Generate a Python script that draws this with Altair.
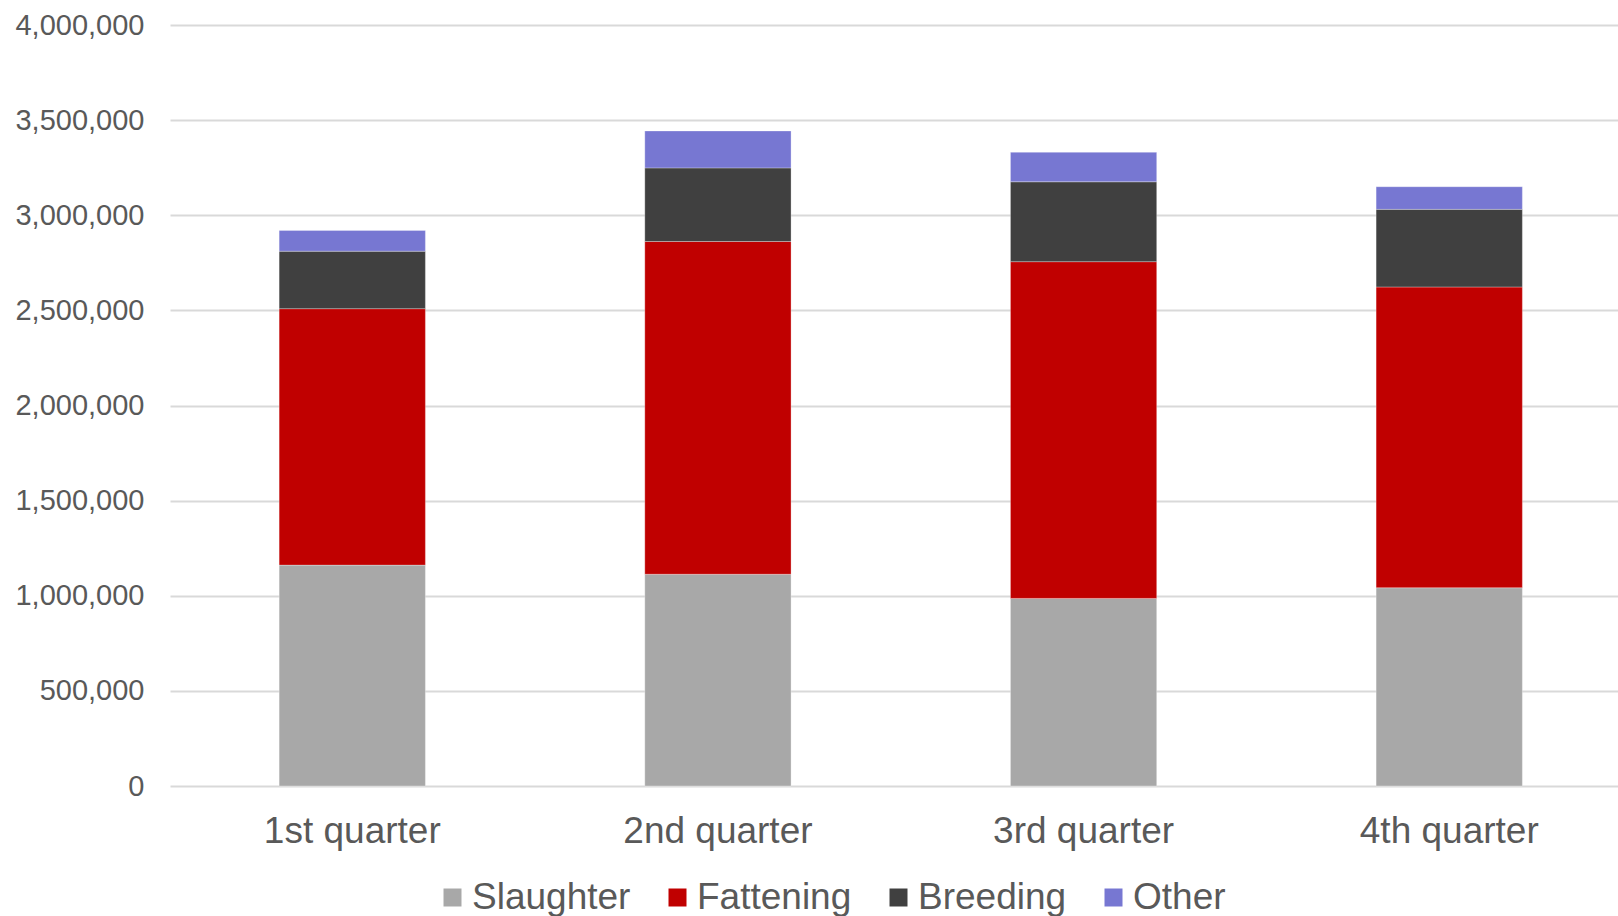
import altair as alt
import pandas as pd

quarters = ["1st quarter", "2nd quarter", "3rd quarter", "4th quarter"]
series = ["Slaughter", "Fattening", "Breeding", "Other"]
slaughter = [1161000, 1113000, 986000, 1042000]
fattening = [1348000, 1749000, 1770000, 1581000]
breeding = [302000, 387000, 420000, 408000]
other = [109000, 194000, 155000, 119000]
colors = ["#A8A8A8", "#C00000", "#404040", "#7777D2"]
y_ticks = [0, 500000, 1000000, 1500000, 2000000, 2500000, 3000000, 3500000, 4000000]

values = {"Slaughter": slaughter, "Fattening": fattening, "Breeding": breeding, "Other": other}
rows = []
for si, s in enumerate(series):
    for qi, q in enumerate(quarters):
        rows.append({"quarter": q, "series": s, "value": values[s][qi], "order": si})
df = pd.DataFrame(rows)

font = "Liberation Sans"

chart = alt.Chart(df).mark_bar(stroke="#ffffff", strokeWidth=0.6, strokeOpacity=0.5).encode(
    x=alt.X("quarter:N", sort=quarters,
            scale=alt.Scale(paddingInner=0.6, paddingOuter=0.28, align=0.533),
            axis=alt.Axis(title=None, labelAngle=0, domain=False, ticks=False, tickSize=0,
                          labelFontSize=37, labelFont=font, labelColor="#595959",
                          labelPadding=27, labelLimit=500, grid=False)),
    y=alt.Y("value:Q", stack="zero",
            scale=alt.Scale(domain=[0, 4000000], nice=False),
            axis=alt.Axis(title=None, values=y_ticks, labelExpr="format(datum.value, ',.0f')",
                          domain=False, ticks=False,
                          tickSize=0, labelFontSize=29, labelFont=font, labelColor="#595959",
                          labelPadding=26, labelLimit=500, grid=True, gridColor="#D9D9D9",
                          gridWidth=1.8)),
    color=alt.Color("series:N", scale=alt.Scale(domain=series, range=colors),
                    legend=alt.Legend(title=None, orient="none", direction="horizontal",
                                      legendX=264, legendY=854, symbolType="square",
                                      symbolSize=324, symbolStrokeWidth=0, symbolOpacity=1,
                                      labelFontSize=37, labelFont=font, labelColor="#595959",
                                      labelOffset=1, columnPadding=28, padding=0,
                                      labelLimit=500, gridAlign="none")),
    order=alt.Order("order:Q", sort="ascending"),
).properties(
    width=1448, height=761,
    background="white",
    autosize=alt.AutoSizeParams(type="none"),
    padding={"left": 170, "top": 25, "right": 0, "bottom": 130},
).configure_view(stroke=None, strokeWidth=0)

chart.save("out.html", embed_options={"renderer": "svg", "actions": False})
